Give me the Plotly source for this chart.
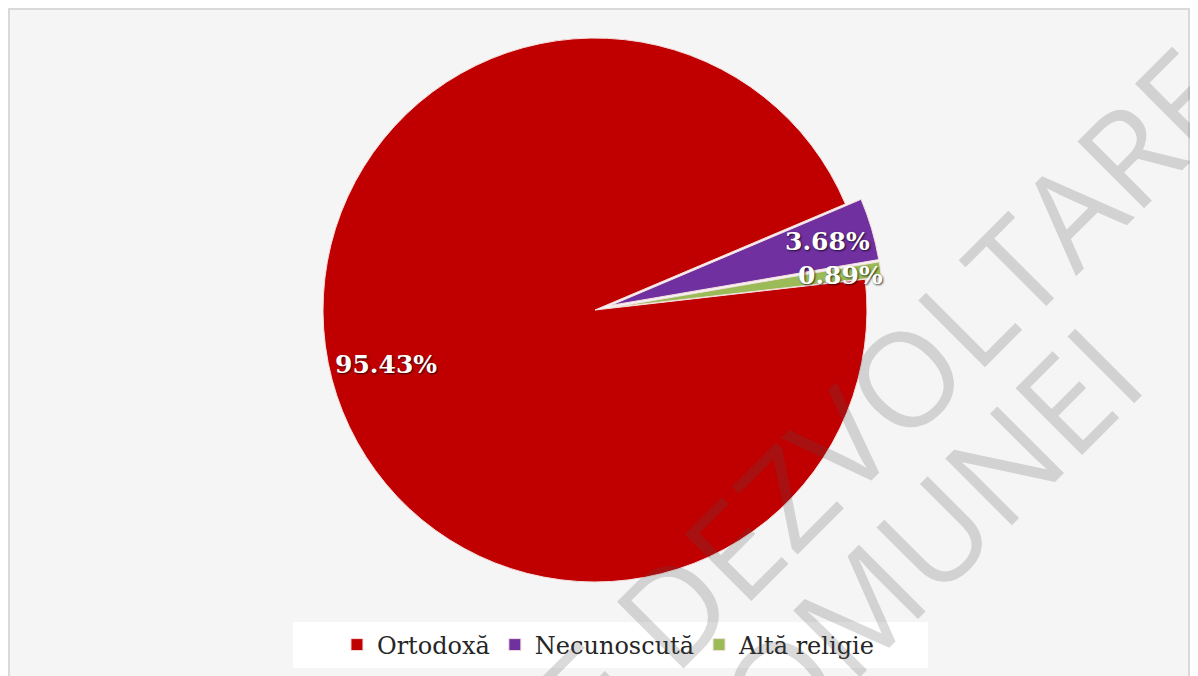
import math
import plotly.graph_objects as go

# religie - structura populatiei (%)
categorii = ['Ortodoxă', 'Necunoscută', 'Altă religie']
procente = [95.43, 3.68, 0.89]
culori = ['#C00000', '#7030A0', '#9BBB59']

W, H = 1182, 668          # the page adds an 8px margin around the figure
rotatie = 83.5             # first slice starts just above 3 o'clock
scoatere = [0, 0.06, 0.06]
dom_x = [0.2466, 0.7466]
dom_y = [1 - (302 + 288.3) / H, 1 - (302 - 288.3) / H]

fig = go.Figure(go.Pie(
    labels=categorii,
    values=procente,
    sort=False,
    direction='clockwise',
    rotation=rotatie,
    pull=scoatere,
    marker=dict(colors=culori, line=dict(color='#f6dede', width=1)),
    textinfo='none',
    hoverinfo='label+percent',
    domain=dict(x=dom_x, y=dom_y),
))

# percentage labels placed along each slice bisector
cx = sum(dom_x) / 2
cy = sum(dom_y) / 2
r_px = min((dom_x[1] - dom_x[0]) * W, (dom_y[1] - dom_y[0]) * H) / 2 / (1 + max(scoatere))
dist = [0.794, 0.89, 0.91]
total = sum(procente)
cum = 0
for v, d in zip(procente, dist):
    ang = math.radians(90 - rotatie - (cum + v / 2) / total * 360)
    cum += v
    fig.add_annotation(
        text=f'{v:.2f}%', xref='paper', yref='paper', showarrow=False,
        x=cx + r_px * d * math.cos(ang) / W,
        y=cy + r_px * d * math.sin(ang) / H,
        xanchor='center', yanchor='middle',
        font=dict(family='DejaVu Serif', size=25, color='white', weight='bold',
                  shadow='1px 1px 2px rgba(0,0,0,0.75)'),
    )

fig.update_layout(
    width=W, height=H,
    margin=dict(l=0, r=0, t=0, b=0),
    paper_bgcolor='white',
    legend=dict(
        orientation='h', x=0.508, xanchor='center', y=1 - 637 / H, yanchor='middle',
        bgcolor='rgba(0,0,0,0)',
        font=dict(family='DejaVu Serif', size=24, color='#262626'),
        traceorder='normal',
    ),
    shapes=[
        dict(type='rect', xref='paper', yref='paper',
             x0=1 / W, x1=1 - 1 / W, y0=-0.02, y1=1 - 1 / H,
             fillcolor='#f5f5f5', line=dict(color='#d9d9d9', width=2),
             layer='below'),
        # white box behind the legend
        dict(type='rect', xref='paper', yref='paper',
             x0=285 / W, x1=920 / W, y0=1 - 660 / H, y1=1 - 614 / H,
             fillcolor='white', line=dict(width=0), layer='below'),
    ],
)

# filigran (watermark)
filigran = dict(family='Open Sans', size=132, color='rgba(80,80,80,0.21)')
fig.add_annotation(text='DE DEZVOLTARE', x=843 / W, y=1 - 421 / H,
                   xref='paper', yref='paper', xanchor='center', yanchor='middle',
                   textangle=-45, showarrow=False, font=filigran)
fig.add_annotation(text='COMUNEI', x=891 / W, y=1 - 558 / H,
                   xref='paper', yref='paper', xanchor='center', yanchor='middle',
                   textangle=-45, showarrow=False, font=filigran)

fig.write_html('out.html')
